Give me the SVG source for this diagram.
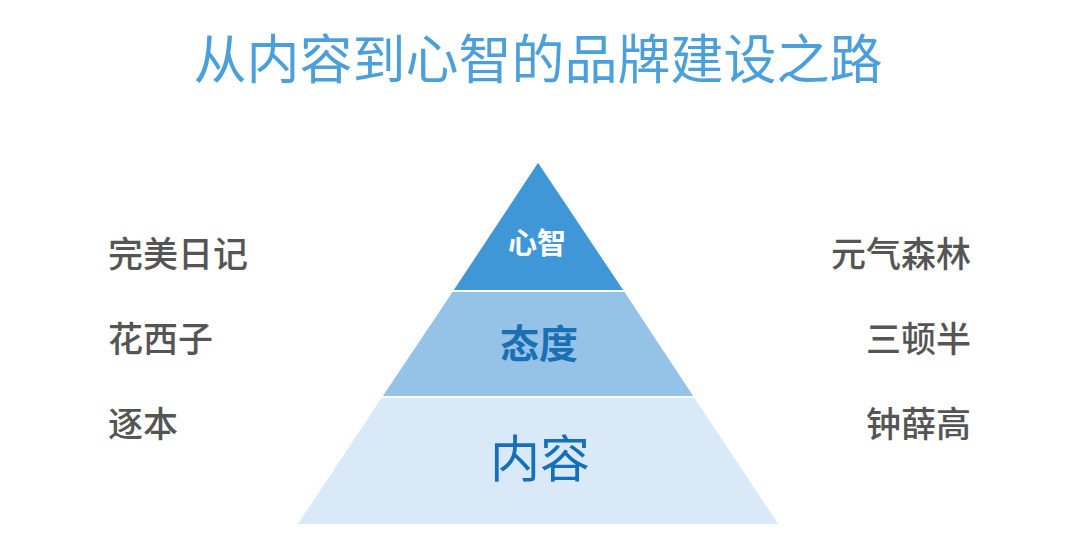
<svg xmlns="http://www.w3.org/2000/svg" width="1080" height="557" viewBox="0 0 1080 557">
<style>
text{font-family:"Noto Sans CJK SC","Noto Sans",sans-serif;}
.title{font-size:53px;fill:#4ba0dc;text-anchor:middle;}
.lbl{font-size:35px;fill:#555555;font-weight:500;}
.r{text-anchor:end;}
.tier{stroke:#ffffff;stroke-width:2;}
</style>
<rect width="1080" height="557" fill="#ffffff"/>
<text class="title" x="538" y="79">从内容到心智的品牌建设之路</text>
<g id="tier-content">
<polygon class="tier" points="381,397 695,397 780,525 296,525" fill="#d9e9f8"/>
<text x="540" y="477" font-size="50" fill="#1470b8" text-anchor="middle">内容</text>
</g>
<g id="tier-attitude">
<polygon class="tier" points="452,291 625,291 695,397 381,397" fill="#95c3e8"/>
<text x="539" y="358" font-size="39" font-weight="bold" fill="#1a6fb5" text-anchor="middle">态度</text>
</g>
<g id="tier-mind">
<polygon class="tier" points="538,161 625,291 452,291" fill="#3f97d8"/>
<text x="537" y="254" font-size="29" font-weight="bold" fill="#ffffff" text-anchor="middle">心智</text>
</g>
<g id="left-labels">
<text class="lbl" x="108" y="267">完美日记</text>
<text class="lbl" x="108" y="352">花西子</text>
<text class="lbl" x="108" y="437">逐本</text>
</g>
<g id="right-labels">
<text class="lbl r" x="971" y="267">元气森林</text>
<text class="lbl r" x="971" y="352">三顿半</text>
<text class="lbl r" x="971" y="437">钟薛高</text>
</g>
<g id="connectors"></g>
</svg>
